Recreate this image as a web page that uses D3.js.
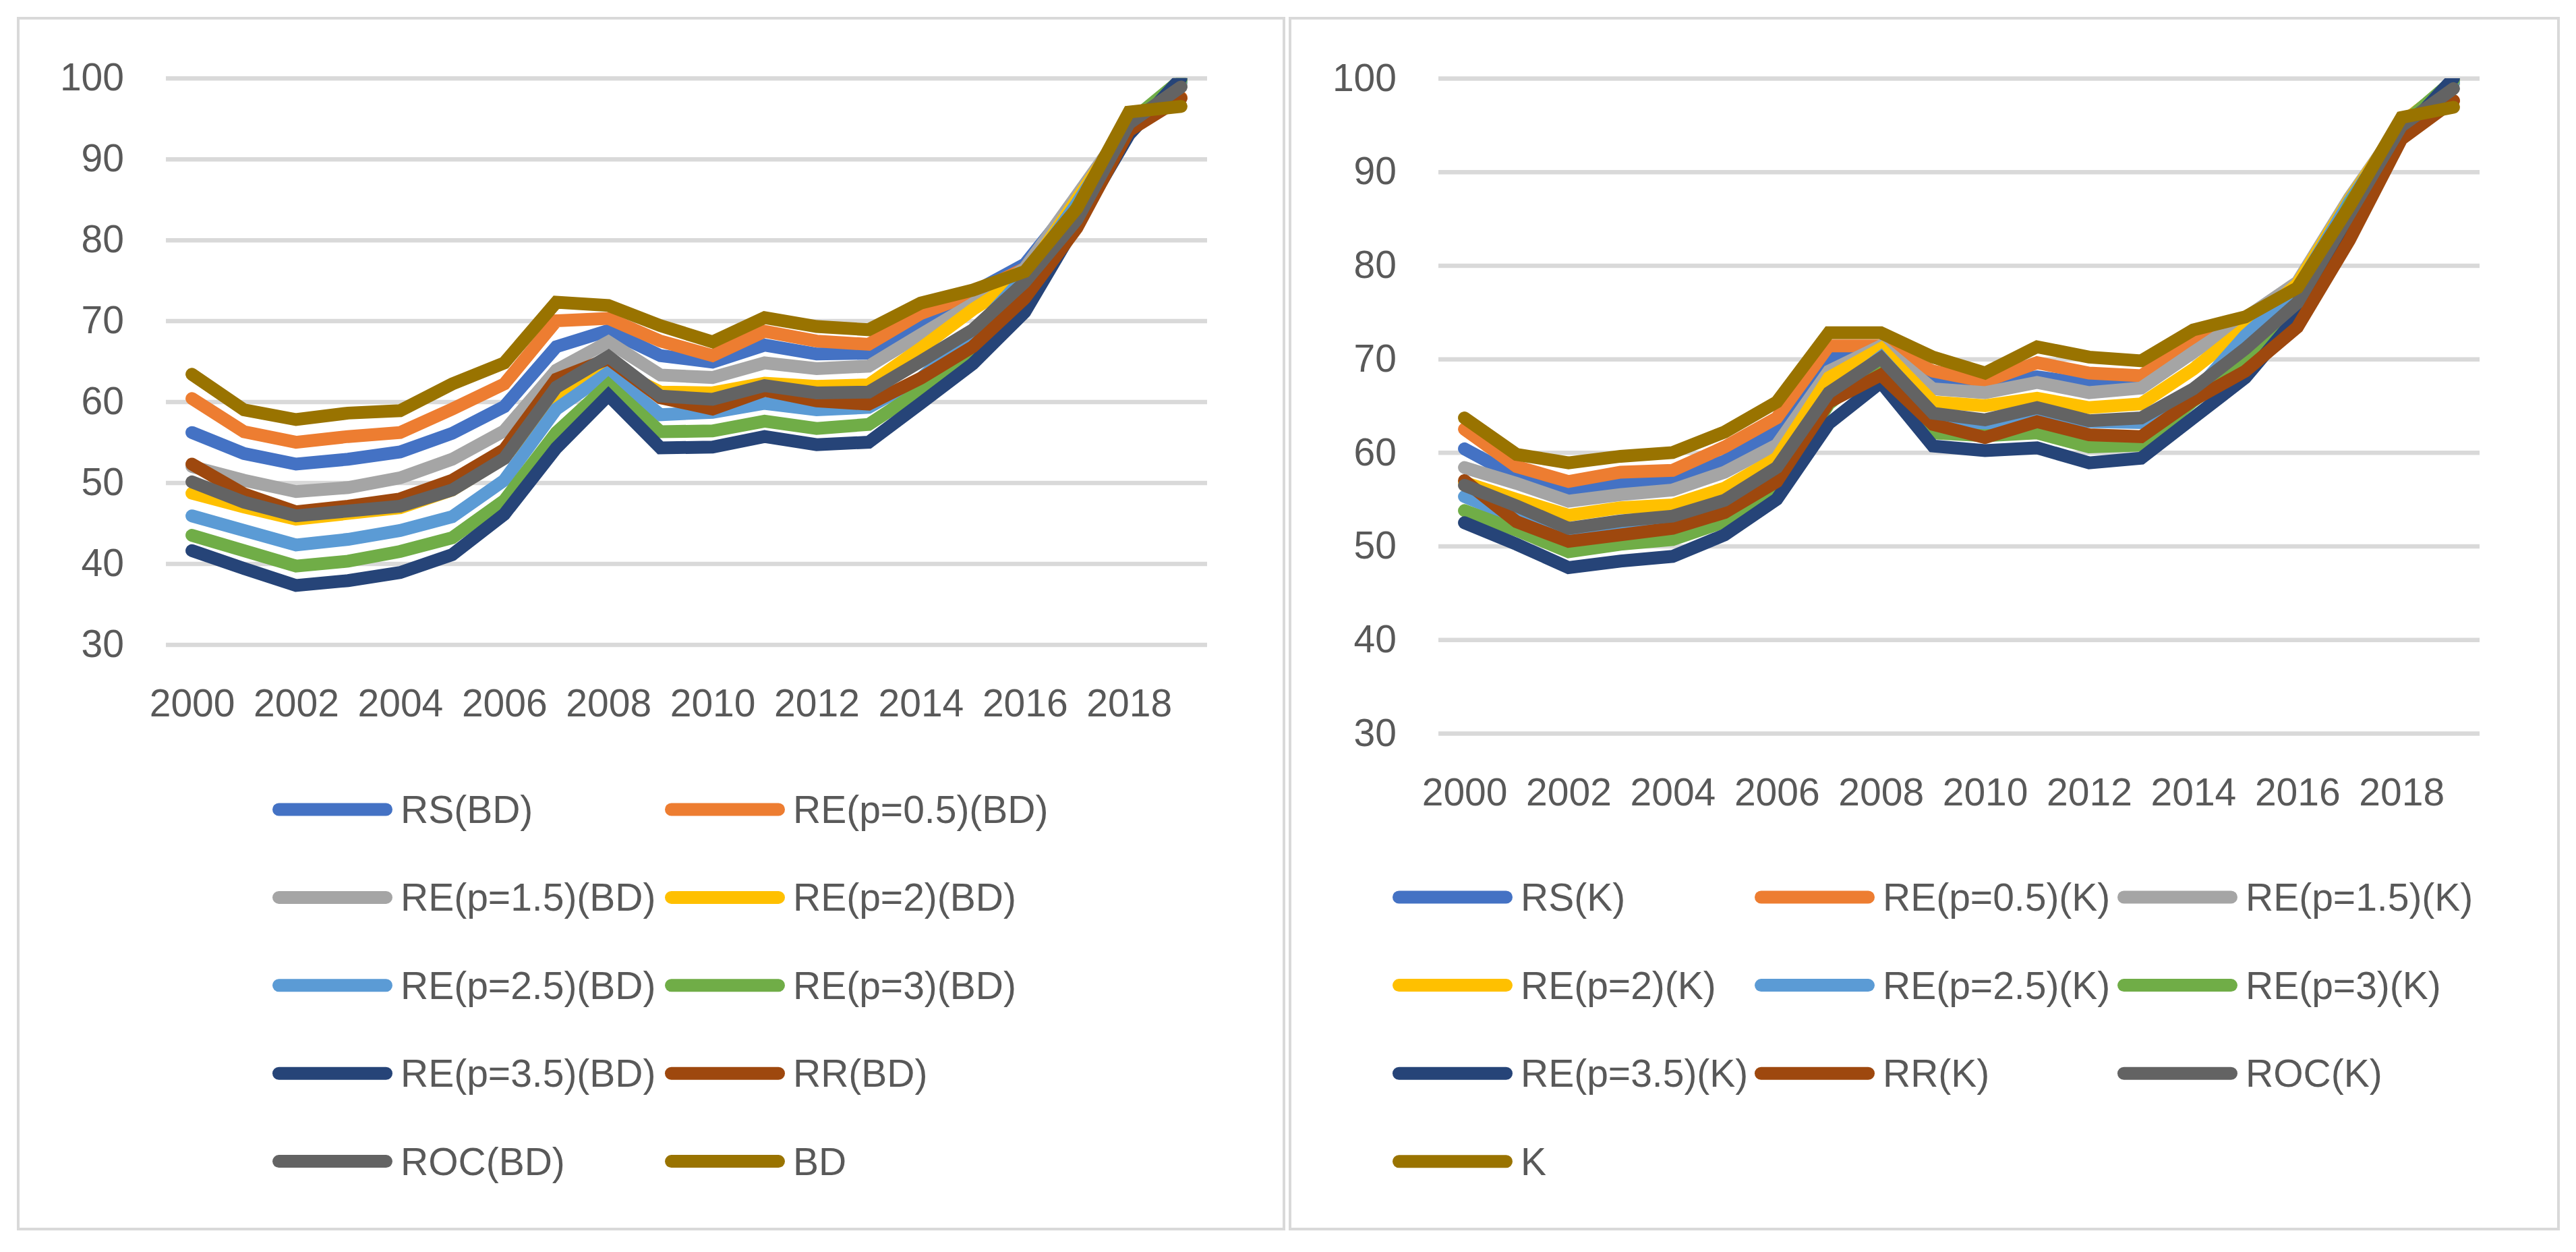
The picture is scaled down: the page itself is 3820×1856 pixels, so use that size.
<!DOCTYPE html>
<html>
<head>
<meta charset="utf-8">
<script src="https://cdn.jsdelivr.net/npm/d3@7"></script>
<style>
  body { margin: 0; background: #fff; }
  svg text { font-family: "Liberation Sans", Arial, sans-serif; fill: #595959; }
</style>
</head>
<body>
<div id="chart"></div>
<script>
// --- data ---
const years = [2000, 2001, 2002, 2003, 2004, 2005, 2006, 2007, 2008, 2009,
               2010, 2011, 2012, 2013, 2014, 2015, 2016, 2017, 2018, 2019];
const xTickYears = [2000, 2002, 2004, 2006, 2008, 2010, 2012, 2014, 2016, 2018];
const yTicks = [30, 40, 50, 60, 70, 80, 90, 100];

const bdNames = ["RS(BD)", "RE(p=0.5)(BD)", "RE(p=1.5)(BD)", "RE(p=2)(BD)", "RE(p=2.5)(BD)",
                 "RE(p=3)(BD)", "RE(p=3.5)(BD)", "RR(BD)", "ROC(BD)", "BD"];
const kNames = ["RS(K)", "RE(p=0.5)(K)", "RE(p=1.5)(K)", "RE(p=2)(K)", "RE(p=2.5)(K)",
                "RE(p=3)(K)", "RE(p=3.5)(K)", "RR(K)", "ROC(K)", "K"];
const colors = ["#4472C4", "#ED7D31", "#A5A5A5", "#FFC000", "#5B9BD5",
                "#70AD47", "#264478", "#9E480E", "#636363", "#997300"];

const bdRS   = [56.2, 53.6, 52.3, 52.9, 53.8, 56.1, 59.4, 66.8, 68.8, 65.7, 64.9, 67.0, 65.9, 66.0, 69.8, 73.5, 77.0, 85.0, 94.5, 99.5];
const bdRE05 = [60.4, 56.3, 55.0, 55.7, 56.2, 59.1, 62.2, 70.0, 70.3, 67.5, 65.7, 68.7, 67.5, 67.1, 70.9, 73.3, 76.5, 85.0, 94.0, 97.6];
const bdRE15 = [52.0, 50.3, 48.9, 49.4, 50.6, 52.9, 56.4, 63.9, 67.4, 63.3, 63.0, 64.8, 64.1, 64.4, 68.3, 72.1, 76.5, 85.5, 94.5, 99.0];
const bdRE2  = [48.7, 47.0, 45.5, 46.2, 46.9, 49.1, 53.1, 60.7, 64.4, 61.2, 61.1, 62.3, 61.9, 62.1, 66.6, 71.4, 75.5, 85.0, 94.5, 99.5];
const bdRE25 = [45.9, 44.1, 42.3, 43.0, 44.1, 45.8, 50.3, 59.1, 63.6, 58.4, 58.7, 59.8, 59.0, 59.3, 62.9, 68.5, 75.5, 84.5, 94.5, 99.5];
const bdRE3  = [43.5, 41.6, 39.7, 40.3, 41.5, 43.2, 47.8, 56.2, 62.1, 56.3, 56.4, 57.6, 56.7, 57.2, 61.4, 66.4, 73.0, 84.0, 94.5, 99.8];
const bdRE35 = [41.6, 39.4, 37.3, 37.9, 38.9, 41.1, 46.1, 54.3, 60.8, 54.3, 54.4, 55.7, 54.7, 55.0, 59.8, 64.7, 71.1, 82.0, 93.0, 100.0];
const bdRR   = [52.3, 48.6, 46.4, 47.1, 48.0, 50.3, 54.1, 62.8, 65.3, 60.5, 59.1, 61.4, 60.1, 59.7, 62.9, 66.8, 72.8, 81.5, 93.5, 97.5];
const bdROC  = [50.1, 47.6, 45.9, 46.5, 47.1, 49.1, 53.0, 61.8, 65.6, 60.7, 60.3, 62.0, 61.1, 61.2, 65.0, 68.9, 74.8, 82.5, 94.4, 98.9];
const bdBD   = [63.4, 59.0, 57.8, 58.6, 58.9, 62.2, 64.8, 72.3, 71.9, 69.4, 67.4, 70.4, 69.3, 68.9, 72.2, 73.8, 76.1, 83.9, 95.8, 96.5];

const kRS   = [60.4, 57.4, 56.1, 56.7, 57.1, 59.1, 62.2, 70.2, 70.8, 68.0, 67.5, 68.1, 67.3, 67.2, 71.0, 74.0, 77.0, 86.5, 95.0, 99.5];
const kRE05 = [62.5, 58.5, 56.9, 57.9, 58.1, 60.6, 63.7, 71.4, 71.4, 68.7, 67.6, 69.6, 68.5, 68.2, 71.9, 74.2, 77.5, 86.5, 95.0, 97.6];
const kRE15 = [58.4, 56.7, 54.8, 55.5, 56.0, 57.9, 60.8, 68.7, 71.4, 66.8, 66.4, 67.5, 66.4, 66.9, 70.7, 74.4, 78.2, 87.2, 95.2, 99.5];
const kRE2  = [56.8, 55.0, 53.3, 54.1, 54.4, 56.2, 59.4, 68.0, 71.1, 65.4, 65.0, 65.8, 64.8, 65.2, 68.9, 73.3, 78.0, 87.0, 95.2, 99.5];
const kRE25 = [55.3, 53.0, 51.5, 52.2, 52.7, 54.6, 58.0, 66.0, 70.2, 64.0, 63.0, 64.0, 63.3, 63.2, 66.2, 72.5, 77.5, 86.8, 95.0, 99.5];
const kRE3  = [53.8, 51.7, 49.4, 50.2, 50.7, 52.6, 56.6, 65.2, 69.5, 62.1, 61.8, 62.1, 60.6, 60.8, 65.5, 69.7, 75.5, 86.5, 95.0, 99.8];
const kRE35 = [52.5, 50.2, 47.7, 48.4, 48.9, 51.2, 55.0, 63.1, 67.5, 60.7, 60.2, 60.5, 58.9, 59.4, 63.7, 68.0, 74.6, 85.0, 94.0, 100.0];
const kRR   = [57.0, 52.6, 50.5, 51.2, 51.9, 53.6, 56.9, 65.4, 68.3, 63.0, 61.6, 63.3, 61.9, 61.7, 65.6, 68.7, 73.4, 82.7, 93.5, 97.6];
const kROC  = [56.5, 54.3, 51.9, 52.7, 53.2, 54.9, 58.4, 66.4, 70.1, 64.2, 63.5, 64.8, 63.4, 63.7, 66.8, 71.1, 76.0, 85.5, 94.9, 98.9];
const kK    = [63.7, 59.8, 58.9, 59.6, 60.0, 62.2, 65.4, 72.8, 72.8, 70.2, 68.5, 71.3, 70.2, 69.8, 73.1, 74.5, 77.6, 86.3, 95.8, 96.9];

const bdSeries = [bdRS, bdRE05, bdRE15, bdRE2, bdRE25, bdRE3, bdRE35, bdRR, bdROC, bdBD];
const kSeries  = [kRS, kRE05, kRE15, kRE2, kRE25, kRE3, kRE35, kRR, kROC, kK];

const W = 3820, H = 1856;
const FONT = 57;
const LINE_W = 19;

const svg = d3.select("#chart").append("svg")
    .attr("width", W)
    .attr("height", H);

function drawPanel(cfg) {
    const g = svg.append("g");

    // panel frame
    g.append("rect")
        .attr("x", cfg.box[0]).attr("y", cfg.box[1])
        .attr("width", cfg.box[2]).attr("height", cfg.box[3])
        .attr("fill", "#fff")
        .attr("stroke", "#d9d9d9")
        .attr("stroke-width", 4);

    const x = d3.scalePoint().domain(years).range([cfg.x0, cfg.x1]).padding(0.5);
    const y = d3.scaleLinear().domain([30, 100]).range([cfg.yBottom, cfg.yTop]);

    // gridlines + y labels
    const yAxis = g.append("g")
        .attr("transform", `translate(${cfg.x0},0)`)
        .call(d3.axisLeft(y).tickValues(yTicks).tickSize(-(cfg.x1 - cfg.x0)).tickPadding(cfg.yPad));
    yAxis.select(".domain").remove();
    yAxis.selectAll("line").attr("stroke", "#d9d9d9").attr("stroke-width", 6.5);
    yAxis.selectAll("text").attr("font-size", FONT).style("fill", "#595959");

    // x labels
    const xAxis = g.append("g")
        .attr("transform", `translate(0,${cfg.xLabelY})`)
        .call(d3.axisBottom(x).tickValues(xTickYears).tickSize(0).tickPadding(0));
    xAxis.select(".domain").remove();
    xAxis.selectAll("text").attr("font-size", FONT).attr("y", 0).attr("dy", "0.35em").style("fill", "#595959");

    // clip at the top of the value axis
    const clipId = "clip-" + cfg.id;
    svg.append("clipPath").attr("id", clipId)
        .append("rect")
        .attr("x", cfg.x0 - 20).attr("y", cfg.yTop)
        .attr("width", cfg.x1 - cfg.x0 + 40).attr("height", cfg.yBottom - cfg.yTop + 20);

    const line = d3.line()
        .x((d, i) => x(years[i]))
        .y(d => y(d));

    g.append("g")
        .attr("clip-path", `url(#${clipId})`)
        .selectAll("path")
        .data(cfg.series)
        .enter().append("path")
        .attr("d", line)
        .attr("fill", "none")
        .attr("stroke", (d, i) => colors[i])
        .attr("stroke-width", LINE_W)
        .attr("stroke-linecap", "round")
        .attr("stroke-linejoin", "miter");

    // legend
    const items = cfg.names.map((name, i) => ({
        name: name,
        color: colors[i],
        col: i % cfg.legend.cols.length,
        row: Math.floor(i / cfg.legend.cols.length)
    }));
    const leg = g.append("g").selectAll("g")
        .data(items)
        .enter().append("g")
        .attr("transform", d => `translate(${cfg.legend.cols[d.col]},${cfg.legend.y0 + d.row * cfg.legend.dy})`);
    leg.append("line")
        .attr("x1", 9.5).attr("x2", 168.5)
        .attr("y1", 0).attr("y2", 0)
        .attr("stroke", d => d.color)
        .attr("stroke-width", LINE_W)
        .attr("stroke-linecap", "round");
    leg.append("text")
        .attr("x", 190)
        .attr("dy", "0.35em")
        .attr("font-size", FONT)
        .text(d => d.name);
}

drawPanel({
    id: "bd",
    box: [27, 27, 1877, 1795],
    x0: 246, x1: 1790,
    yTop: 115.7, yBottom: 955.5,
    yPad: 62,
    xLabelY: 1042,
    series: bdSeries,
    names: bdNames,
    legend: { cols: [404, 986], y0: 1200, dy: 130.4 }
});

drawPanel({
    id: "k",
    box: [1913, 27, 1881, 1795],
    x0: 2133, x1: 3677,
    yTop: 116, yBottom: 1087,
    yPad: 62,
    xLabelY: 1174,
    series: kSeries,
    names: kNames,
    legend: { cols: [2065, 2602, 3140], y0: 1330, dy: 130.6 }
});
</script>
</body>
</html>
